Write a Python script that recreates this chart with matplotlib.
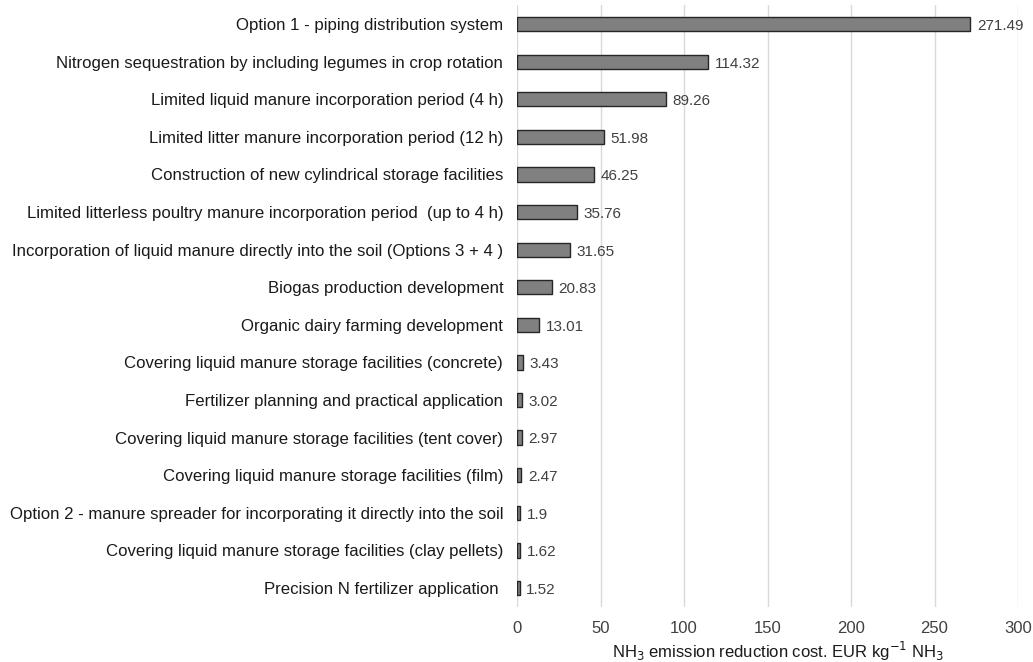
import matplotlib.pyplot as plt

measures = [
    "Option 1 - piping distribution system",
    "Nitrogen sequestration by including legumes in crop rotation",
    "Limited liquid manure incorporation period (4 h)",
    "Limited litter manure incorporation period (12 h)",
    "Construction of new cylindrical storage facilities",
    "Limited litterless poultry manure incorporation period  (up to 4 h)",
    "Incorporation of liquid manure directly into the soil (Options 3 + 4 )",
    "Biogas production development",
    "Organic dairy farming development",
    "Covering liquid manure storage facilities (concrete)",
    "Fertilizer planning and practical application",
    "Covering liquid manure storage facilities (tent cover)",
    "Covering liquid manure storage facilities (film)",
    "Option 2 - manure spreader for incorporating it directly into the soil",
    "Covering liquid manure storage facilities (clay pellets)",
    "Precision N fertilizer application ",
]
costs = [271.49, 114.32, 89.26, 51.98, 46.25, 35.76, 31.65, 20.83,
         13.01, 3.43, 3.02, 2.97, 2.47, 1.9, 1.62, 1.52]
cost_labels = ["271.49", "114.32", "89.26", "51.98", "46.25", "35.76", "31.65",
               "20.83", "13.01", "3.43", "3.02", "2.97", "2.47", "1.9", "1.62", "1.52"]
x_ticks = [0, 50, 100, 150, 200, 250, 300]

plt.rcParams['font.family'] = ['Liberation Sans', 'DejaVu Sans']

fig = plt.figure(figsize=(10.33, 6.62), dpi=100)
ax = fig.add_axes([0.5005, 0.0834, 0.485, 0.9086])

# bars + value labels
y = list(range(len(measures)))
ax.barh(y, costs, height=0.38, color='#808080', edgecolor='#262626', linewidth=1.0, zorder=3)
for yi, v, lab in zip(y, costs, cost_labels):
    ax.text(v + 4, yi + 0.05, lab, va='center', ha='left', fontsize=11, color='#404040')

ax.set_ylim(len(measures) - 0.5, -0.5)
ax.set_xlim(0, 300)
ax.set_xticks(x_ticks)
ax.set_yticks(y)
ax.set_yticklabels(measures, fontsize=12.1, color='#1a1a1a')
ax.tick_params(axis='x', labelsize=12, colors='#404040', length=0, pad=10)
ax.tick_params(axis='y', length=0, pad=10)
ax.grid(axis='x', color='#d9d9d9', linewidth=1.0, zorder=0)
for s in ax.spines.values():
    s.set_visible(False)
ax.set_xlabel("NH$_3$ emission reduction cost. EUR kg$^{-1}$ NH$_3$", fontsize=12,
              color='#1a1a1a', labelpad=2)
ax.xaxis.set_label_coords(0.52, -0.055)

fig.savefig("out.png", dpi=100)
